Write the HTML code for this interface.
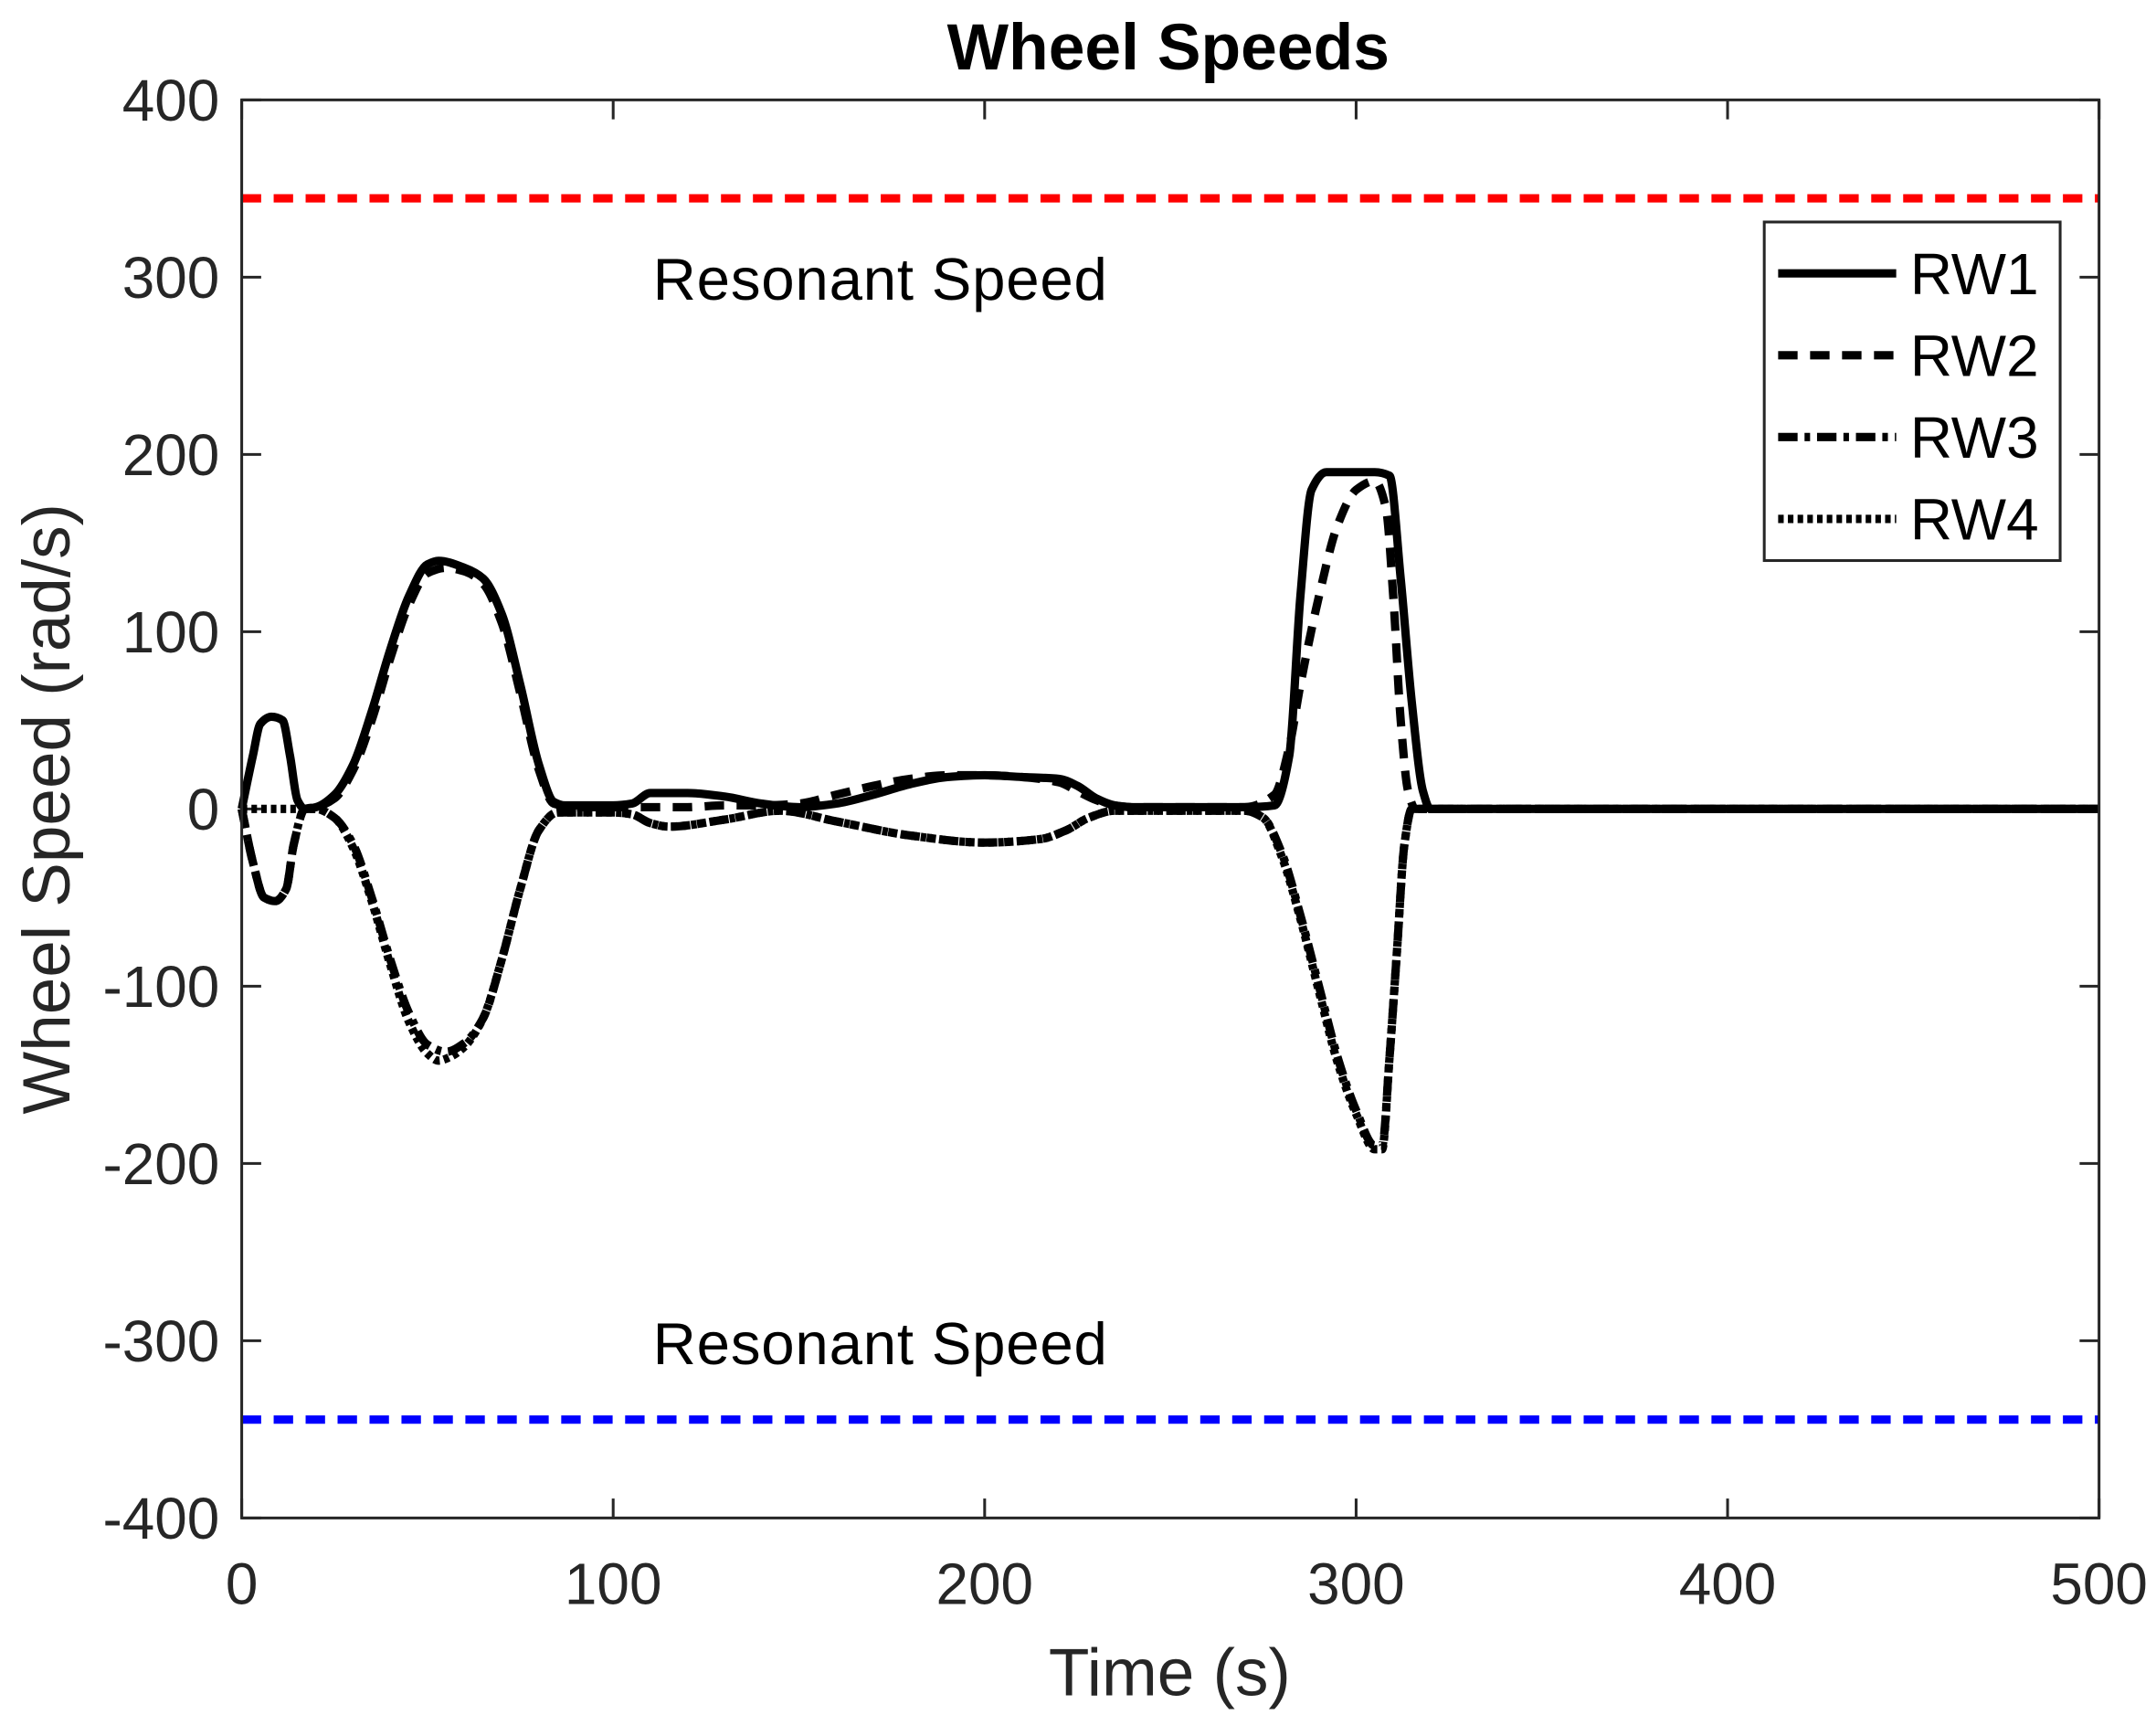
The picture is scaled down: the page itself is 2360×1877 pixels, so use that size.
<!DOCTYPE html>
<html><head><meta charset="utf-8"><style>
html,body{margin:0;padding:0;background:#fff;}
svg{display:block;}
text{font-family:"Liberation Sans",Arial,sans-serif;}
</style></head><body>
<svg id="chart" width="2360" height="1877" viewBox="0 0 1552 1236" preserveAspectRatio="none" xmlns="http://www.w3.org/2000/svg">
<rect x="0" y="0" width="1552" height="1236" fill="#fff"/>
<text x="841" y="50" text-anchor="middle" font-size="47" font-weight="bold" fill="#000">Wheel Speeds</text>
<g id="ticks"></g>
<g id="series"></g>
<rect x="174" y="72" width="1337" height="1022" fill="none" stroke="#262626" stroke-width="2"/>
<text x="470" y="216" font-size="43" fill="#000" textLength="327">Resonant Speed</text>
<text x="470" y="983" font-size="43" fill="#000" textLength="327">Resonant Speed</text>
<text x="842" y="1222" text-anchor="middle" font-size="48" fill="#262626">Time (s)</text>
<text transform="translate(50,583) rotate(-90)" text-anchor="middle" font-size="48" fill="#262626">Wheel Speed (rad/s)</text>
<g>
<rect x="1270" y="160" width="213" height="244" fill="#fff" stroke="#262626" stroke-width="2"/>
<line x1="1280" y1="197" x2="1365" y2="197" stroke="#000" stroke-width="6"/>
<text x="1375" y="212" font-size="42">RW1</text>
<line x1="1280" y1="256" x2="1365" y2="256" stroke="#000" stroke-width="6" stroke-dasharray="14 9"/>
<text x="1375" y="271" font-size="42">RW2</text>
<line x1="1280" y1="315" x2="1365" y2="315" stroke="#000" stroke-width="6" stroke-dasharray="14 5 4 5"/>
<text x="1375" y="330" font-size="42">RW3</text>
<line x1="1280" y1="374" x2="1365" y2="374" stroke="#000" stroke-width="6" stroke-dasharray="4 3"/>
<text x="1375" y="389" font-size="42">RW4</text>
</g>
</svg>
<script>
const xTicks = [0,100,200,300,400,500];
const yTicks = [-400,-300,-200,-100,0,100,200,300,400];
const resonantSpeeds = [344.5, -344.5];
const rw1T = [0,3,5,8,11,13,15,17,20,25,30,35,40,45,50,53,60,65,70,75,80,84,87,100,105,110,120,130,140,150,160,170,180,190,200,210,220,225,230,235,240,270,278,282,285,288,292,305,309,312,315,318,320,500];
const rw1V = [0,30,48,52,50,30,5,0,1,8,25,55,90,120,138,140,136,130,110,70,25,4,2,2,3,9,9,7,3,1,3,8,14,18,19,18,17,13,6,2,1,1,2,30,120,180,190,190,188,130,60,10,0,0];
const rw2T = [0,3,6,9,12,14,17,20,25,30,35,40,45,50,55,60,65,70,75,80,84,90,100,110,120,130,140,150,160,170,180,190,200,210,220,225,230,235,240,270,278,282,285,290,295,300,305,308,310,312,314,316,500];
const rw2V = [0,-30,-50,-52,-45,-20,0,1,6,22,50,85,115,133,136,134,127,105,65,22,3,1,1,1,1,2,2,3,8,13,17,19,19,18,15,10,5,2,1,1,8,35,70,120,160,180,185,170,120,50,10,0,0];
const rw3T = [0,3,6,9,12,14,17,20,25,30,35,40,45,50,55,60,65,70,75,80,85,100,105,110,115,130,145,160,180,200,215,222,228,235,270,275,280,285,290,295,300,305,307,309,311,313,315,500];
const rw3V = [0,-30,-50,-52,-45,-20,0,0,-5,-20,-50,-85,-115,-133,-137,-132,-118,-85,-45,-12,-2,-2,-3,-8,-10,-6,-1,-7,-15,-19,-17,-12,-5,-1,-1,-5,-25,-60,-100,-140,-170,-190,-190,-140,-80,-20,0,0];
const rw4T = [0,17,20,25,30,35,40,45,50,53,56,60,65,70,75,80,85,100,105,110,115,130,145,160,180,200,215,222,228,235,270,275,280,285,290,295,300,305,307,309,311,313,315,500];
const rw4V = [0,0,0,-5,-22,-52,-88,-120,-138,-142,-140,-134,-118,-85,-45,-12,-2,-2,-3,-8,-10,-6,-1,-7,-15,-19,-17,-12,-5,-1,-1,-5,-27,-62,-103,-143,-172,-192,-192,-140,-80,-20,0,0];

const X0=174,X1=1511,Y0=1094,Y1=72;
function xs(v){return X0+(v-0)/(500-0)*(X1-X0);}
function ys(v){return Y0-(v+400)/800*(Y0-Y1);}
const NS='http://www.w3.org/2000/svg';
const tg=document.getElementById('ticks');
const sg=document.getElementById('series');
xTicks.forEach(t=>{
  const x=xs(t);
  [[Y0,Y0-14],[Y1,Y1+14]].forEach(p=>{
    const l=document.createElementNS(NS,'line');
    l.setAttribute('x1',x);l.setAttribute('x2',x);l.setAttribute('y1',p[0]);l.setAttribute('y2',p[1]);
    l.setAttribute('stroke','#262626');l.setAttribute('stroke-width','2');
    
    
    tg.appendChild(l);
  });
  const tx=document.createElementNS(NS,'text');
  tx.setAttribute('x',x);tx.setAttribute('y',1156);tx.setAttribute('text-anchor','middle');
  tx.setAttribute('font-size','42');tx.setAttribute('fill','#262626');tx.textContent=t;
  
  
  tg.appendChild(tx);
});
yTicks.forEach(t=>{
  const y=ys(t);
  [[X0,X0+14],[X1,X1-14]].forEach(p=>{
    const l=document.createElementNS(NS,'line');
    l.setAttribute('x1',p[0]);l.setAttribute('x2',p[1]);l.setAttribute('y1',y);l.setAttribute('y2',y);
    l.setAttribute('stroke','#262626');l.setAttribute('stroke-width','2');
    
    
    tg.appendChild(l);
  });
  const tx=document.createElementNS(NS,'text');
  tx.setAttribute('x',158);tx.setAttribute('y',y+15);tx.setAttribute('text-anchor','end');
  tx.setAttribute('font-size','42');tx.setAttribute('fill','#262626');tx.textContent=t;
  
  
  tg.appendChild(tx);
});
['#ff0000','#0000ff'].forEach((c,i)=>{
  const l=document.createElementNS(NS,'line');
  l.setAttribute('x1',X0);l.setAttribute('x2',X1);
  l.setAttribute('y1',ys(resonantSpeeds[i]));l.setAttribute('y2',ys(resonantSpeeds[i]));
  l.setAttribute('stroke',c);l.setAttribute('stroke-width','6');l.setAttribute('stroke-dasharray','14 9');
  
  
  sg.appendChild(l);
});
// monotone cubic (Fritsch-Carlson) in data space, sampled
function pathD(T,V){
  const n=T.length, d=[], m=new Array(n);
  for(let i=0;i<n-1;i++) d.push((V[i+1]-V[i])/(T[i+1]-T[i]));
  m[0]=d[0]; m[n-1]=d[n-2];
  for(let i=1;i<n-1;i++){
    if(d[i-1]*d[i]<=0) m[i]=0;
    else { const w1=2*(T[i+1]-T[i])+(T[i]-T[i-1]), w2=(T[i+1]-T[i])+2*(T[i]-T[i-1]);
      m[i]=(w1+w2)/(w1/d[i-1]+w2/d[i]); }
  }
  let s='M'+xs(T[0])+','+ys(V[0]);
  for(let i=0;i<n-1;i++){
    const h=T[i+1]-T[i];
    const c1t=T[i]+h/3, c1v=V[i]+m[i]*h/3;
    const c2t=T[i+1]-h/3, c2v=V[i+1]-m[i+1]*h/3;
    s+=' C'+xs(c1t)+','+ys(c1v)+' '+xs(c2t)+','+ys(c2v)+' '+xs(T[i+1])+','+ys(V[i+1]);
  }
  return s;
}
const series=[[rw4T,rw4V,'4 3','rw4'],[rw3T,rw3V,'14 5 4 5','rw3'],[rw2T,rw2V,'14 9','rw2'],[rw1T,rw1V,'','rw1']];
series.forEach(s=>{
  const p=document.createElementNS(NS,'path');
  p.setAttribute('d',pathD(s[0],s[1]));
  p.setAttribute('fill','none');p.setAttribute('stroke','#000');p.setAttribute('stroke-width','6');
  p.setAttribute('stroke-linejoin','round');
  if(s[2])p.setAttribute('stroke-dasharray',s[2]);
  
  
  sg.appendChild(p);
});
</script>
</body></html>
